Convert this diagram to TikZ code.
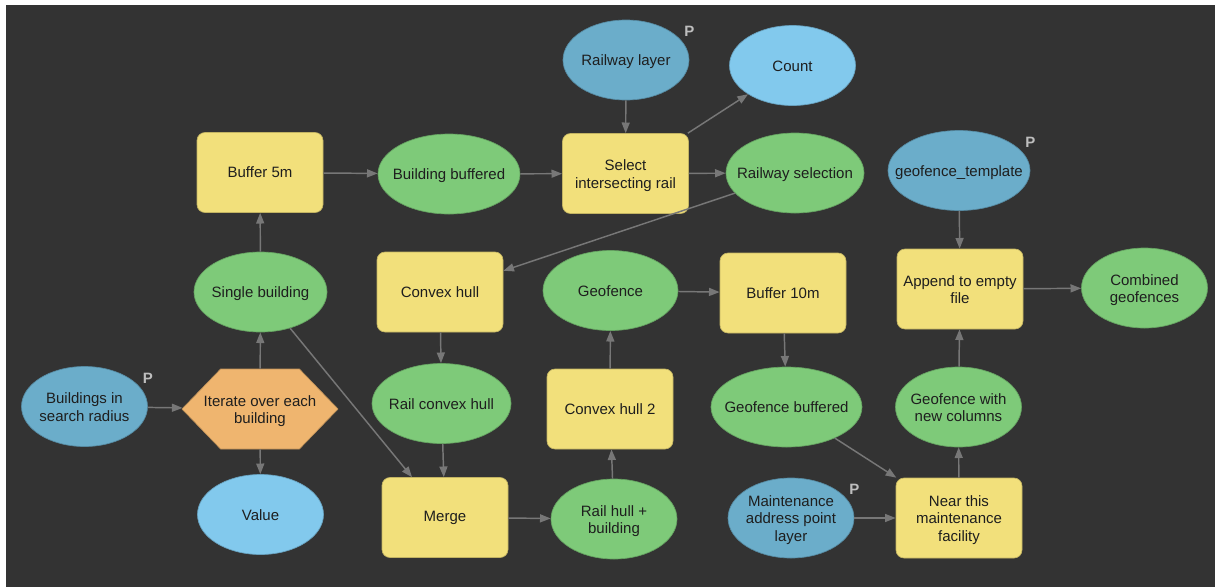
\documentclass[tikz,border=0pt]{standalone}
\usepackage{fontspec}
\setmainfont{Liberation Sans}
\usepackage{tikz}
\usetikzlibrary{shapes, shapes.geometric, shapes.symbols, arrows.meta, positioning, calc}

\definecolor{canvas}{HTML}{333333}
\definecolor{toolfill}{HTML}{F2E07B}
\definecolor{datafill}{HTML}{7ECA79}
\definecolor{paramfill}{HTML}{6BADCA}
\definecolor{valfill}{HTML}{82C9ED}
\definecolor{iterfill}{HTML}{EFB56F}
\definecolor{linkgray}{HTML}{777777}
\definecolor{inktext}{HTML}{1E1E1E}
\definecolor{pgray}{HTML}{BEBEBE}

% text box of zero width, so the ellipse keeps its own size
\newcommand{\etxt}[1]{\makebox[0pt]{\raisebox{-1.8pt}[\height][\depth]{\begin{tabular}{@{}c@{}}#1\end{tabular}}}}

\begin{document}
\begin{tikzpicture}[x=0.75pt, y=-0.75pt,
    every node/.style={font=\fontsize{11.25}{13}\selectfont, text=inktext},
    tool/.style={rectangle, rounded corners=6pt, draw=toolfill!80!black, line width=0.5pt, fill=toolfill,
        minimum width=94.5pt, minimum height=60pt, inner sep=0pt, align=center},
    ell/.style={ellipse, draw=#1!80!black, line width=0.5pt, fill=#1,
        minimum width=94.5pt, minimum height=60pt, inner sep=0pt},
    ell/.default=datafill,
    iter/.style={signal, signal to=west and east, signal pointer angle=92, draw=iterfill!80!black,
        line width=0.5pt, fill=iterfill, minimum width=117pt, minimum height=60pt, inner sep=0pt},
    plabel/.style={font=\fontsize{11.25}{13}\selectfont\bfseries, text=pgray, inner sep=0pt},
    link/.style={draw=linkgray, line width=1.1pt, -{Triangle[length=8pt, width=6pt]}}]

    \useasboundingbox (0,0) rectangle (1215,587);
    \fill[white] (0,0) rectangle (1215,587);
    \fill[canvas] (6,5) rectangle (1215,587);

    % Iteration
    \node[ell=paramfill] (bldgs) at (84.5,406.5) {\etxt{Buildings in\\search radius}};
    \node[plabel] (bldgsp) at (bldgs.east |- bldgs.north east) {P};
    \node[iter] (iter) at (260,409) {\etxt{Iterate over each\\building}};
    \node[ell=valfill] (value) at (260.5,514.5) {\etxt{Value}};
    \node[ell, minimum width=99.75pt] (single) at (260.5,292) {\etxt{Single building}};

    % Rail selection
    \node[tool] (buf5) at (260,172.5) {Buffer 5m};
    \node[ell, minimum width=106.5pt] (bldbuf) at (449,174) {\etxt{Building buffered}};
    \node[ell=paramfill] (raillyr) at (626,60) {\etxt{Railway layer}};
    \node[plabel] (raillyrp) at (raillyr.east |- raillyr.north east) {P};
    \node[tool] (selrail) at (625.5,173.5) {\etxt{Select\\intersecting rail}};
    \node[ell=valfill] (count) at (792.5,65.5) {\etxt{Count}};
    \node[ell, minimum width=103.5pt] (railsel) at (795,173) {\etxt{Railway selection}};

    % Hulls
    \node[tool] (hull) at (440,292) {Convex hull};
    \node[ell, minimum width=104.25pt] (railhull) at (441.5,403.5) {\etxt{Rail convex hull}};
    \node[tool] (merge) at (445,517.5) {Merge};
    \node[ell] (hullbld) at (614,519) {\etxt{Rail hull +\\building}};
    \node[tool] (hull2) at (610,409) {Convex hull 2};
    \node[ell, minimum width=101.25pt] (geofence) at (610.5,290.5) {\etxt{Geofence}};

    % Geofence output
    \node[tool] (buf10) at (783,293) {Buffer 10m};
    \node[ell, minimum width=113.25pt] (geobuf) at (786.5,407) {\etxt{Geofence buffered}};
    \node[ell=paramfill] (maint) at (791,518) {\etxt{Maintenance\\address point\\layer}};
    \node[plabel] (maintp) at (maint.east |- maint.north east) {P};
    \node[tool] (near) at (959,518) {\etxt{Near this\\maintenance\\facility}};
    \node[ell] (geocols) at (958.5,407) {\etxt{Geofence with\\new columns}};
    \node[tool] (append) at (960,289) {\etxt{Append to empty\\file}};
    \node[ell=paramfill, minimum width=106.5pt] (geotmpl) at (959,170.5) {\etxt{geofence\_template}};
    \node[plabel] (geotmplp) at (geotmpl.east |- geotmpl.north east) {P};
    \node[ell] (combined) at (1144.5,288) {\etxt{Combined\\geofences}};

    \draw[link] (bldgs) -- (iter);
    \draw[link] (iter) -- (value);
    \draw[link] (iter) -- (single);
    \draw[link] (single) -- (buf5);
    \draw[link] (buf5) -- (bldbuf);
    \draw[link] (bldbuf) -- (selrail);
    \draw[link] (raillyr) -- (selrail);
    \draw[link] (selrail) -- (count);
    \draw[link] (selrail) -- (railsel);
    \draw[link] (railsel) -- (hull);
    \draw[link] (hull) -- (railhull);
    \draw[link] (railhull) -- (merge);
    \draw[link] (single) -- (merge);
    \draw[link] (merge) -- (hullbld);
    \draw[link] (hullbld) -- (hull2);
    \draw[link] (hull2) -- (geofence);
    \draw[link] (geofence) -- (buf10);
    \draw[link] (buf10) -- (geobuf);
    \draw[link] (geobuf) -- (near);
    \draw[link] (maint) -- (near);
    \draw[link] (near) -- (geocols);
    \draw[link] (geocols) -- (append);
    \draw[link] (geotmpl) -- (append);
    \draw[link] (append) -- (combined);
\end{tikzpicture}
\end{document}
